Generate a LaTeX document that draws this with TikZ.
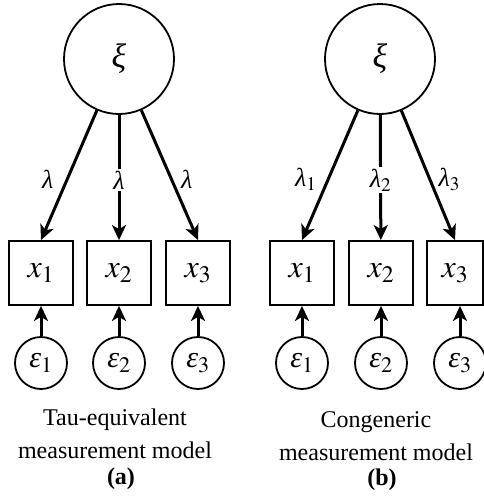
\documentclass[tikz,border=0pt]{standalone}
\usepackage{mathptmx}
\usepackage[no-math]{fontspec}
\setmainfont{Liberation Serif}
\usetikzlibrary{arrows.meta}
\newcommand\gk[1]{\mbox{\itshape #1}} %斜体ギリシャ文字

\tikzset{
 latent/.style={draw,circle,line width=1.8pt,minimum size=110pt,inner sep=0pt,font=\fontsize{34}{38}\selectfont},
 obs/.style={draw,rectangle,line width=1.8pt,minimum width=64pt,minimum height=64pt,inner sep=0pt,font=\fontsize{32}{36}\selectfont},
 err/.style={draw,circle,line width=1.8pt,minimum size=52pt,inner sep=0pt,font=\fontsize{30}{34}\selectfont},
 loading/.style={line width=3pt,-{Stealth[length=15pt,width=14pt,inset=4pt]}},
 lam/.style={font=\fontsize{26}{30}\selectfont,inner sep=2pt},
 caption/.style={font=\fontsize{24}{33}\selectfont,align=center},
}

\begin{document}
\begin{tikzpicture}[x=1pt,y=-1pt]
 \useasboundingbox (0,0) rectangle (484,499); %画像の大きさ

 %(a) タウ等価
 \node[latent] (xiA) at (119,59) {$\gk{ξ}$}; %潜在変数
 \node[obs] (xA1) at (41,273) {$x_1$};
 \node[obs] (xA2) at (119,273) {$x_2$};
 \node[obs] (xA3) at (198,273) {$x_3$};
 \node[err] (eA1) at (41,363) {$\gk{ε}_1$};
 \node[err] (eA2) at (119,363) {$\gk{ε}_2$};
 \node[err] (eA3) at (198,363) {$\gk{ε}_3$};
 \draw[loading] (xiA) -- (xA1.north) node[lam,pos=0.535,left=10pt] {$\gk{λ}$};
 \draw[loading] (xiA) -- (xA2) node[lam,pos=0.52,fill=white] {$\gk{λ}$};
 \draw[loading] (xiA) -- (xA3.north) node[lam,pos=0.535,right=6pt] {$\gk{λ}$};
 \draw[loading] (eA1) -- (xA1);
 \draw[loading] (eA2) -- (xA2);
 \draw[loading] (eA3) -- (xA3);
 \node[caption] (capA) at (115,434) {Tau-equivalent\\measurement model};
 \node[caption,font=\fontsize{24}{28}\selectfont\bfseries] (labA) at (121,479) {(a)};

 %(b) 同族
 \node[latent] (xiB) at (380,59) {$\gk{ξ}$}; %潜在変数
 \node[obs] (xB1) at (302,273) {$x_1$};
 \node[obs] (xB2) at (381,273) {$x_2$};
 \node[obs,minimum width=56pt] (xB3) at (455,273) {$x_3$};
 \node[err] (eB1) at (302,363) {$\gk{ε}_1$};
 \node[err] (eB2) at (381,363) {$\gk{ε}_2$};
 \node[err] (eB3) at (460,363) {$\gk{ε}_3$};
 \draw[loading] (xiB) -- (xB1.north) node[lam,pos=0.535,left=8pt] {$\gk{λ}_1$};
 \draw[loading] (xiB) -- (xB2) node[lam,pos=0.52,fill=white] {$\gk{λ}_2$};
 \draw[loading] (xiB) -- (xB3.north) node[lam,pos=0.535,right=5pt] {$\gk{λ}_3$};
 \draw[loading] (eB1) -- (xB1);
 \draw[loading] (eB2) -- (xB2);
 \draw[loading] (eB3) -- (eB3 |- xB3.south);
 \node[caption] (capB) at (376,436) {Congeneric\\measurement model};
 \node[caption,font=\fontsize{24}{28}\selectfont\bfseries] (labB) at (382,480) {(b)};
\end{tikzpicture}
\end{document}
